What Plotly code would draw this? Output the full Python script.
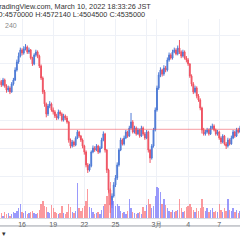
import pandas as pd
import plotly.graph_objects as go

# ---- data (BTC/JPY, 4h candles, prices in thousand JPY) ----
start_time = "2022-02-13 20:00"
opens = [4880,4871,4850,4885,4842,4814,4828,4800,4857,4885,
4956,5013,5055,5098,5077,5105,5119,5084,5098,5041,
4999,5063,5084,5055,4984,4899,4800,4715,4644,4700,
4715,4672,4658,4629,4615,4658,4644,4601,4629,4615,
4587,4459,4416,4445,4424,4473,4516,4487,4459,4416,
4374,4282,4246,4274,4374,4402,4388,4416,4374,4402,
4459,4502,4388,4246,4104,3998,4061,4140,4189,4282,
4388,4459,4431,4473,4516,4487,4544,4587,4516,4544,
4502,4530,4487,4544,4502,4473,4516,4388,4331,4416,
4530,4672,4828,4921,4956,4928,4970,4956,5027,5063,
5041,5084,5098,5070,5112,5084,5055,5084,5041,5027,
4999,4913,4857,4800,4828,4771,4743,4686,4530,4502,
4516,4530,4502,4544,4558,4530,4502,4516,4473,4445,
4487,4431,4416,4459,4431,4473,4516,4487,4530,4516]
closes = [4871,4850,4885,4842,4814,4828,4800,4857,4885,4956,
5013,5055,5098,5077,5105,5119,5084,5098,5041,4999,
5063,5084,5055,4984,4899,4800,4715,4644,4700,4715,
4672,4658,4629,4615,4658,4644,4601,4629,4615,4587,
4459,4416,4445,4424,4473,4516,4487,4459,4416,4374,
4282,4246,4274,4374,4402,4388,4416,4374,4402,4459,
4502,4388,4246,4104,3998,4061,4140,4189,4282,4388,
4459,4431,4473,4516,4487,4544,4587,4516,4544,4502,
4530,4487,4544,4502,4473,4516,4388,4331,4416,4530,
4672,4828,4921,4956,4928,4970,4956,5027,5063,5041,
5084,5098,5070,5112,5084,5055,5084,5041,5027,4999,
4913,4857,4800,4828,4771,4743,4686,4530,4502,4516,
4530,4502,4544,4558,4530,4502,4516,4473,4445,4487,
4431,4416,4459,4431,4473,4516,4487,4530,4516,4544]
highs = [4900,4885,4900,4895,4855,4845,4840,4870,4900,4975,
5030,5080,5115,5110,5125,5140,5130,5115,5105,5050,
5075,5100,5095,5065,4995,4910,4815,4725,4715,4735,
4725,4690,4670,4645,4675,4670,4655,4645,4640,4630,
4595,4470,4460,4455,4485,4530,4525,4495,4470,4425,
4385,4295,4290,4385,4420,4415,4430,4425,4415,4475,
4520,4510,4395,4255,4115,4080,4160,4210,4300,4400,
4475,4470,4490,4530,4525,4560,4651,4600,4560,4555,
4545,4540,4560,4555,4515,4530,4525,4395,4430,4545,
4690,4845,4940,4975,4965,4990,4985,5045,5080,5075,
5100,5115,5110,5130,5169,5095,5100,5095,5055,5040,
5005,4925,4870,4845,4840,4785,4755,4695,4545,4530,
4545,4540,4560,4575,4570,4540,4530,4525,4485,4500,
4495,4445,4475,4470,4490,4530,4525,4545,4545,4560]
lows = [4855,4835,4840,4830,4795,4800,4785,4795,4845,4878,
4945,5000,5045,5060,5065,5095,5070,5070,5030,4985,
4990,5050,5040,4970,4885,4785,4695,4620,4630,4685,
4660,4640,4615,4600,4605,4630,4590,4590,4600,4575,
4440,4400,4405,4410,4415,4465,4475,4445,4400,4355,
4265,4225,4235,4265,4365,4375,4380,4360,4365,4395,
4450,4370,4225,4080,3941,3975,4050,4125,4175,4270,
4380,4420,4420,4465,4475,4480,4535,4505,4505,4490,
4495,4475,4480,4490,4460,4465,4370,4296,4320,4405,
4520,4660,4815,4905,4910,4915,4940,4945,5015,5030,
5030,5075,5060,5060,5070,5040,5045,5030,5010,4985,
4900,4840,4785,4790,4755,4730,4670,4505,4490,4490,
4505,4490,4495,4535,4520,4490,4490,4460,4430,4435,
4420,4395,4405,4420,4425,4465,4475,4480,4505,4510]
volumes = [3,4,2,5,3,4,2,3,5,4,
6,8,12,5,4,6,3,4,5,6,
4,3,4,7,12,14,10,9,5,4,
11,8,5,4,3,4,10,4,3,5,
12,9,5,4,6,29,8,6,8,10,
14,24,9,8,5,3,4,5,3,7,
10,12,18,22,30,15,14,10,12,10,
6,4,5,3,6,16,8,5,4,3,
4,5,3,9,6,11,16,12,8,10,
18,26,25,22,12,16,11,8,6,5,
7,5,6,7,16,8,5,6,9,10,
12,9,7,5,8,6,8,16,9,6,
8,5,7,8,5,6,5,12,7,5,
8,6,16,7,6,8,5,7,4,6]

tick_dates = ["2022-02-16","2022-02-19","2022-02-22","2022-02-25",
              "2022-02-28","2022-03-01","2022-03-04","2022-03-07"]
tick_labels = ["16","19","22","25","","3月","4","7"]

header_line1 = "TradingView.com, March 10, 2022 18:33:26 JST"
last_ohlc = {"O": 4570000, "H": 4572140, "L": 4504500, "C": 4535000}
interval_label = "240"

# ---- styles ----
UP = "#4f7bd6"
DOWN = "#ef5362"
VOL_UP = "rgba(120,120,250,0.75)"
VOL_DOWN = "rgba(250,110,115,0.7)"
GRID = "#eef1f7"

times = pd.date_range(start_time, periods=len(closes), freq="4h")
vol_colors = [VOL_UP if c >= o else VOL_DOWN for o, c in zip(opens, closes)]

fig = go.Figure()
fig.add_trace(go.Bar(
    x=times, y=volumes, marker=dict(color=vol_colors, line=dict(width=0)),
    width=4 * 3600 * 1000 * 0.8, yaxis="y2", hoverinfo="skip"))
fig.add_trace(go.Candlestick(
    x=times, open=opens, high=highs, low=lows, close=closes,
    increasing=dict(line=dict(color=UP, width=1), fillcolor=UP),
    decreasing=dict(line=dict(color=DOWN, width=1), fillcolor=DOWN),
    whiskerwidth=0, yaxis="y"))

last_close_k = last_ohlc["C"] / 1000
fig.add_shape(type="line", xref="paper", x0=0, x1=1, yref="y",
              y0=last_close_k, y1=last_close_k,
              line=dict(color="rgba(240,90,100,0.6)", width=1))
# bottom border of the time scale
fig.add_shape(type="line", xref="paper", x0=0, x1=1, yref="paper",
              y0=-0.04, y1=-0.04, line=dict(color="#9a9ea8", width=1))

PW, PH = 240, 199
ohlc_text = " ".join(f"{k}:{v}" for k, v in last_ohlc.items())
font = "Liberation Sans, Arial, sans-serif"
fig.add_annotation(xref="paper", yref="paper", x=-7 / PW, y=(218 - 6) / PH,
                   text=header_line1, showarrow=False, xanchor="left",
                   yanchor="middle", font=dict(size=7.3, color="#333", family=font))
fig.add_annotation(xref="paper", yref="paper", x=-5 / PW, y=(218 - 14) / PH,
                   text=ohlc_text, showarrow=False, xanchor="left",
                   yanchor="middle", font=dict(size=7.3, color="#333", family=font))
fig.add_annotation(xref="paper", yref="paper", x=3 / PW, y=(218 - 25) / PH,
                   text=interval_label, showarrow=False, xanchor="left",
                   yanchor="middle", font=dict(size=7, color="#888", family=font))
fig.add_annotation(xref="paper", yref="paper", x=0, y=(218 - 233) / PH,
                   text="▾", showarrow=False, xanchor="left",
                   yanchor="middle", font=dict(size=7, color="#333", family=font))

fig.update_layout(
    width=240, height=240,
    margin=dict(l=0, r=0, t=19, b=22),
    paper_bgcolor="white", plot_bgcolor="white",
    showlegend=False,
    bargap=0,
    xaxis=dict(type="date", range=["2022-02-13 21:00", "2022-03-09 00:00"],
               tickvals=tick_dates, ticktext=tick_labels,
               showgrid=True, gridcolor=GRID, gridwidth=1,
               ticks="", tickfont=dict(size=7, color="#555", family=font),
               showline=True, linecolor="#d6d9e0", linewidth=1,
               zeroline=False, rangeslider=dict(visible=False), fixedrange=True),
    yaxis=dict(range=[3905.2, 5318.1], tick0=4000, dtick=200,
               showticklabels=False, showgrid=True, gridcolor=GRID,
               zeroline=False, ticks="", fixedrange=True),
    yaxis2=dict(overlaying="y", range=[0, PH / 1.2], visible=False, fixedrange=True),
)

fig.write_html("out.html")
